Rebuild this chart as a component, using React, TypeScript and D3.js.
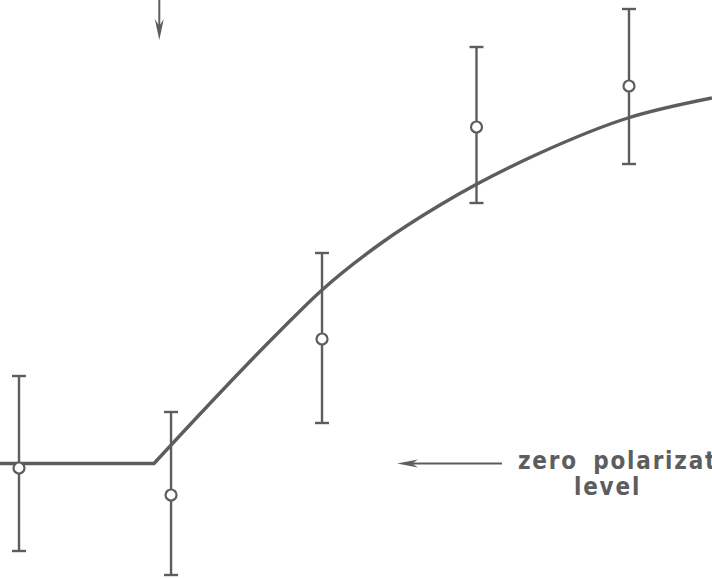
import React from 'react';
import * as d3 from 'd3';

const W = 712;
const H = 579;

// Measured points (arbitrary units) with their error ranges
const pointX = [0, 0.997, 1.987, 3.0, 4.0];
const pointY = [-0.045, -0.315, 1.245, 3.365, 3.775];
const pointLow = [-0.875, -1.115, 0.405, 2.605, 2.995];
const pointHigh = [0.875, 0.515, 2.105, 4.165, 4.545];

// Model curve: flat at zero up to the threshold, then rising
const curveX = [-0.13, 0.885, 1.711, 1.987, 2.367, 2.761, 3.003, 3.416, 3.993, 4.544];
const curveY = [0, 0, 1.325, 1.735, 2.195, 2.585, 2.795, 3.105, 3.455, 3.655];

// Annotations
const thresholdX = 0.92;
const thresholdArrowTipY = 4.235;
const zeroArrowFrom = 3.167;
const zeroArrowTo = 2.479;
const zeroLabelX = 3.272;
const zeroLabel = ['zero polarization', 'level'];

const INK = '#5d5d5d';

export default function App() {
  const x = d3.scaleLinear().domain([0, 4]).range([19, 629]);
  const y = d3.scaleLinear().domain([0, 4]).range([463.5, 63.5]);

  const pts = curveX.map((cx, i) => [x(cx), y(curveY[i])] as [number, number]);
  const flat = d3.line()(pts.slice(0, 2)) || '';
  const rise = (d3.line().curve(d3.curveMonotoneX)(pts.slice(1)) || '').replace(/^M/, 'L');
  const curvePath = flat + rise;

  const capHalf = 7;
  const r = 5.5;

  // top arrow marking the threshold
  const ax = x(thresholdX);
  const aTip = y(thresholdArrowTipY);
  const topHead = `M${ax},${aTip} L${ax - 4.5},${aTip - 21} L${ax},${aTip - 14} L${ax + 4.5},${aTip - 21} Z`;

  // horizontal arrow pointing to the zero level
  const zy = y(0);
  const hx0 = x(zeroArrowTo);
  const hx1 = x(zeroArrowFrom);
  const sideHead = `M${hx0},${zy} L${hx0 + 21},${zy - 4} L${hx0 + 15},${zy} L${hx0 + 21},${zy + 4} Z`;

  const lx = x(zeroLabelX);

  return (
    <svg
      width={W}
      height={H}
      viewBox={`0 0 ${W} ${H}`}
      style={{ position: 'fixed', left: 0, top: 0, background: '#fff' }}
    >
      <rect x={0} y={0} width={W} height={H} fill="#fff" />
      <path d={curvePath} fill="none" stroke={INK} strokeWidth={3.4} strokeLinejoin="miter" />

      {pointX.map((px, i) => (
        <g key={i} stroke={INK} strokeWidth={2.4}>
          <line x1={x(px)} x2={x(px)} y1={y(pointLow[i])} y2={y(pointHigh[i])} />
          <line x1={x(px) - capHalf} x2={x(px) + capHalf} y1={y(pointHigh[i])} y2={y(pointHigh[i])} />
          <line x1={x(px) - capHalf} x2={x(px) + capHalf} y1={y(pointLow[i])} y2={y(pointLow[i])} />
          <circle cx={x(px)} cy={y(pointY[i])} r={r} fill="#fff" strokeWidth={2.2} />
        </g>
      ))}

      <line x1={ax} x2={ax} y1={0} y2={aTip - 14} stroke={INK} strokeWidth={2} />
      <path d={topHead} fill={INK} />

      <line x1={hx0 + 15} x2={hx1} y1={zy} y2={zy} stroke={INK} strokeWidth={2} />
      <path d={sideHead} fill={INK} />

      <g
        fill={INK}
        fontFamily="'DejaVu Sans Condensed', 'DejaVu Sans', sans-serif"
        fontStretch="condensed"
        fontWeight="bold"
        fontSize={24}
        letterSpacing={1.8}
      >
        <text x={lx} y={zy + 5} wordSpacing={6}>{zeroLabel[0]}</text>
        <text x={lx + 56} y={zy + 31}>{zeroLabel[1]}</text>
      </g>
    </svg>
  );
}
